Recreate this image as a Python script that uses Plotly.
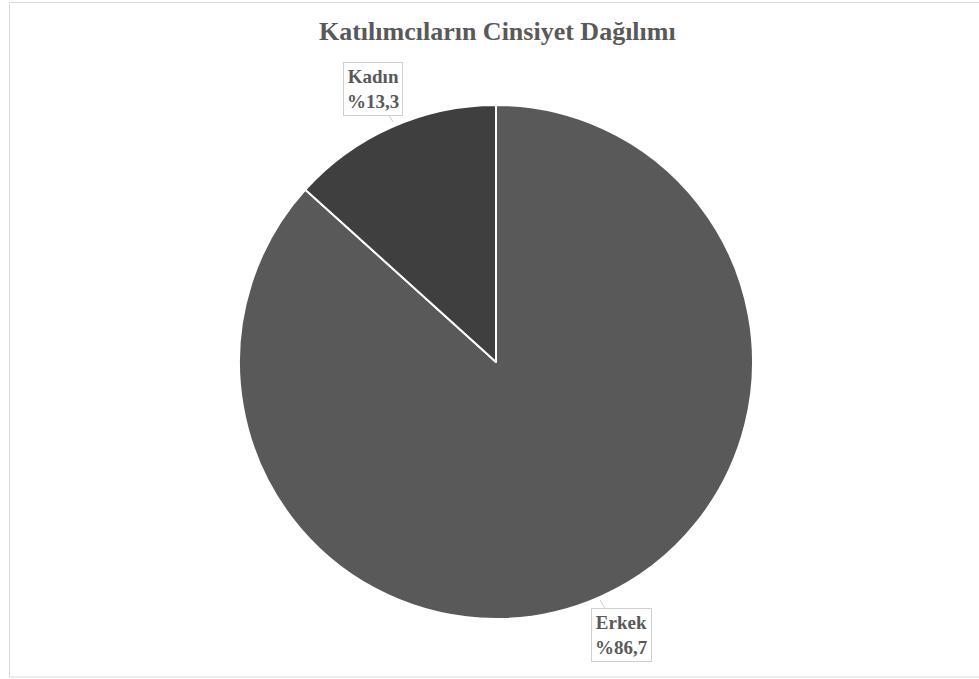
import plotly.graph_objects as go

labels = ["Erkek", "Kadın"]
values = [86.7, 13.3]
colors = ["#595959", "#3f3f3f"]
label_texts = ["Erkek<br>%86,7", "Kadın<br>%13,3"]

W, H = 979, 679
cx, cy, r = 496, 362, 257

fig = go.Figure(go.Pie(
    labels=labels, values=values, sort=False, direction="clockwise", rotation=0,
    marker=dict(colors=colors, line=dict(color="white", width=2)),
    textinfo="none", hoverinfo="label+percent", showlegend=False,
    domain=dict(x=[(cx - r) / W, (cx + r) / W], y=[(H - cy - r) / H, (H - cy + r) / H]),
))

font = dict(family="Liberation Serif, Times New Roman, serif", size=19, color="#595959")

fig.add_annotation(x=393 / W, y=1 - 122 / H, xref="paper", yref="paper", text="<b>" + label_texts[1] + "</b>",
                   showarrow=True, ax=-20, ay=-33, axref="pixel", ayref="pixel",
                   arrowcolor="#cfcfcf", arrowwidth=1, arrowhead=0, standoff=0,
                   bordercolor="#cfcfcf", borderwidth=1, bgcolor="white", borderpad=3, font=font)
fig.add_annotation(x=600 / W, y=1 - 600 / H, xref="paper", yref="paper", text="<b>" + label_texts[0] + "</b>",
                   showarrow=True, ax=21, ay=35, axref="pixel", ayref="pixel",
                   arrowcolor="#cfcfcf", arrowwidth=1, arrowhead=0, standoff=0,
                   bordercolor="#cfcfcf", borderwidth=1, bgcolor="white", borderpad=3, font=font)

fig.add_shape(type="rect", xref="paper", yref="paper", x0=9.5 / W, x1=1.01, y0=1 - 677 / H, y1=1 - 2.5 / H,
              line=dict(color="#d9d9d9", width=1))

fig.update_layout(
    width=W, height=H, margin=dict(l=0, r=0, t=0, b=0),
    paper_bgcolor="white", plot_bgcolor="white",
    title=dict(text="<b>Katılımcıların Cinsiyet Dağılımı</b>", x=0.508, xanchor="center", y=1 - 31 / H, yanchor="middle",
               font=dict(family="Liberation Serif, Times New Roman, serif", size=26, color="#595959")),
)

fig.write_html("out.html")
